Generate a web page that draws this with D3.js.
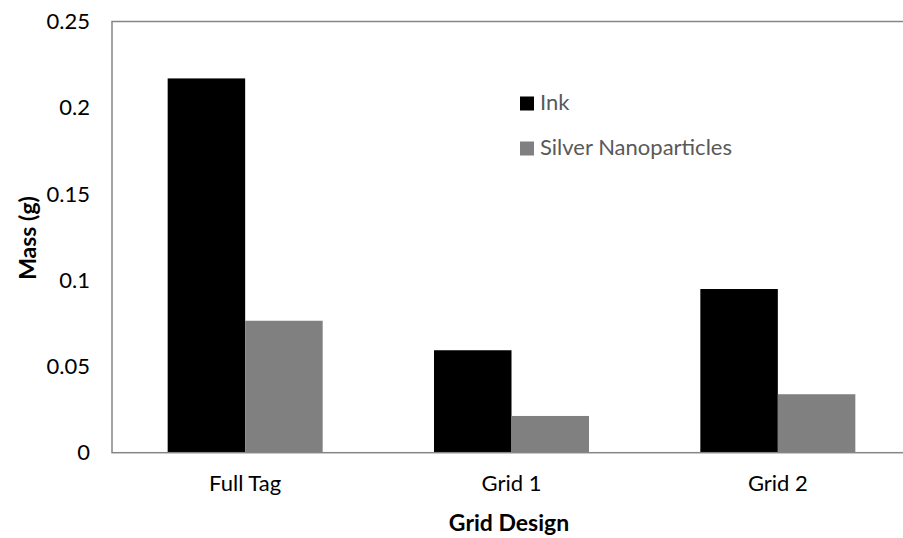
<!DOCTYPE html>
<html>
<head>
<meta charset="utf-8">
<script src="https://cdn.jsdelivr.net/npm/d3@7"></script>
<style>
  html, body { margin: 0; padding: 0; background: #fff; }
  svg { display: block; font-family: Lato, "Open Sans", sans-serif; }
</style>
</head>
<body>
<svg id="chart" width="903" height="538"></svg>
<script>
// Mass of material used per grid design
const categories = ["Full Tag", "Grid 1", "Grid 2"];
const seriesNames = ["Ink", "Silver Nanoparticles"];
const inkMass = [0.217, 0.0594, 0.0949];
const silverMass = [0.0765, 0.0213, 0.0339];
const yTicks = [0, 0.05, 0.1, 0.15, 0.2, 0.25];
const colors = ["#000000", "#808080"];

const svg = d3.select("#chart");
const plotLeft = 112, plotRight = 911, plotTop = 21.5, plotBottom = 452.7;

const x0 = d3.scaleBand().domain(categories).range([plotLeft, plotRight]).paddingInner(0.418).paddingOuter(0.209);
const x1 = d3.scaleBand().domain(seriesNames).range([0, x0.bandwidth()]);
const y = d3.scaleLinear().domain([0, 0.25]).range([plotBottom, plotTop]);

const rows = categories.map((c, i) => ({ cat: c, values: [inkMass[i], silverMass[i]] }));

// bars
const g = svg.append("g");
rows.forEach(r => {
  r.values.forEach((v, j) => {
    g.append("rect")
      .attr("x", x0(r.cat) + x1(seriesNames[j]))
      .attr("y", y(v))
      .attr("width", x1.bandwidth())
      .attr("height", y(0) - y(v))
      .attr("fill", colors[j]);
  });
});

// plot frame
svg.append("rect")
  .attr("x", plotLeft).attr("y", plotTop)
  .attr("width", plotRight - plotLeft).attr("height", plotBottom - plotTop)
  .attr("fill", "none").attr("stroke", "#868686").attr("stroke-width", 1.5);

// y axis labels
const yAxis = d3.axisLeft(y).tickValues(yTicks).tickSize(0).tickPadding(22)
  .tickFormat(d => String(+d.toFixed(2)));
const ya = svg.append("g").attr("transform", `translate(${plotLeft},0)`).call(yAxis);
ya.select(".domain").remove();
ya.selectAll("text").attr("font-size", 22).attr("fill", "#000").attr("font-family", "Lato, sans-serif");

// x axis labels
const xAxis = d3.axisBottom(x0).tickSize(0).tickPadding(0);
const xa = svg.append("g").attr("transform", `translate(0,${plotBottom})`).call(xAxis);
xa.select(".domain").remove();
xa.selectAll("text").attr("font-size", 22).attr("fill", "#000").attr("font-family", "Lato, sans-serif")
  .attr("y", 38).attr("dy", null);

// axis titles
svg.append("text")
  .attr("x", 509).attr("y", 530.5)
  .attr("text-anchor", "middle").attr("font-size", 23).attr("font-weight", "bold")
  .text("Grid Design");
svg.append("text")
  .attr("transform", `translate(36,238) rotate(-90)`)
  .attr("text-anchor", "middle").attr("font-size", 23).attr("font-weight", "bold")
  .text("Mass (g)");

// legend
const legend = svg.append("g");
seriesNames.forEach((name, j) => {
  const base = 110 + j * 45;
  legend.append("rect").attr("x", 520).attr("y", base - 13.5).attr("width", 14).attr("height", 14).attr("fill", colors[j]);
  legend.append("text").attr("x", 540).attr("y", base)
    .attr("font-size", 22).attr("fill", "#595959").text(name);
});
</script>
</body>
</html>
